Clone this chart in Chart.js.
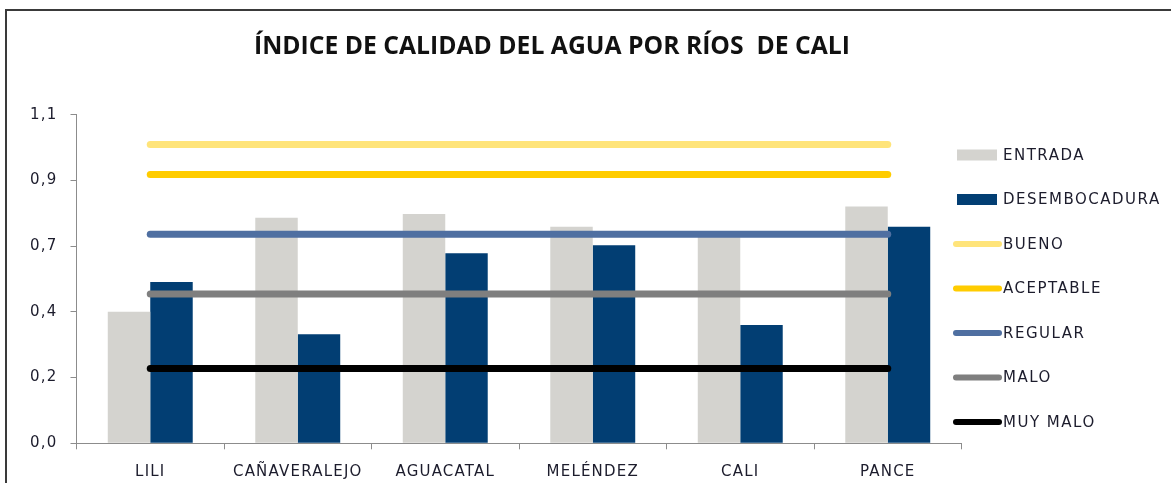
<!DOCTYPE html>
<html>
<head>
<meta charset="utf-8">
<script src="https://cdn.jsdelivr.net/npm/chart.js@4.4.0/dist/chart.umd.min.js"></script>
<style>
  html, body { margin: 0; padding: 0; background: #ffffff; }
  #wrap { position: relative; width: 1171px; height: 483px; }
  canvas { display: block; }
</style>
</head>
<body>
<div id="wrap"><canvas id="c" width="1171" height="483"></canvas></div>
<script>
// ---- data ----
const categories = ['LILI', 'CAÑAVERALEJO', 'AGUACATAL', 'MELÉNDEZ', 'CALI', 'PANCE'];
const entrada = [0.44, 0.755, 0.768, 0.725, 0.70, 0.793];
const desembocadura = [0.54, 0.365, 0.636, 0.663, 0.396, 0.725];
const bueno = [1.0, 1.0, 1.0, 1.0, 1.0, 1.0];
const aceptable = [0.9, 0.9, 0.9, 0.9, 0.9, 0.9];
const regular = [0.7, 0.7, 0.7, 0.7, 0.7, 0.7];
const malo = [0.5, 0.5, 0.5, 0.5, 0.5, 0.5];
const muyMalo = [0.25, 0.25, 0.25, 0.25, 0.25, 0.25];
const yTickValues = [0, 0.22, 0.44, 0.66, 0.88, 1.1];
const yTickLabels = ['0,0', '0,2', '0,4', '0,7', '0,9', '1,1'];
const titleText = 'ÍNDICE DE CALIDAD DEL AGUA POR RÍOS  DE CALI';

const TXT = '#1c1c2c';
const FONT = "'DejaVu Sans', 'Liberation Sans', sans-serif";
const SPACING = '1.2px';

function lineDs(label, data, color) {
  return {
    type: 'line', label, data,
    borderColor: color, backgroundColor: color,
    borderWidth: 7, borderCapStyle: 'round',
    pointRadius: 0, pointHoverRadius: 0,
    fill: false, tension: 0, order: 0
  };
}

const frame = {
  id: 'frame',
  beforeLayout(chart) { chart.ctx.letterSpacing = SPACING; },
  beforeDraw(chart) {
    const ctx = chart.ctx;
    ctx.letterSpacing = SPACING;
    ctx.save();
    ctx.fillStyle = '#ffffff';
    ctx.fillRect(0, 0, chart.width, chart.height);
    ctx.strokeStyle = '#3a3a3a';
    ctx.lineWidth = 2;
    ctx.beginPath();
    ctx.moveTo(6, chart.height);
    ctx.lineTo(6, 10);
    ctx.lineTo(chart.width, 10);
    ctx.stroke();
    ctx.restore();
  },
  afterDraw(chart) {
    const ctx = chart.ctx;
    ctx.save();
    // title
    ctx.letterSpacing = '0px';
    ctx.fillStyle = '#111111';
    ctx.font = "bold 25px 'Open Sans', 'Liberation Sans', sans-serif";
    ctx.textAlign = 'center';
    ctx.textBaseline = 'alphabetic';
    ctx.fillText(titleText, 552, 54, 596);
    // legend
    ctx.letterSpacing = '1.5px';
    const ds = chart.data.datasets;
    ctx.font = '15px ' + FONT;
    ctx.textAlign = 'left';
    ctx.textBaseline = 'middle';
    ds.forEach((d, i) => {
      const y = 155 + i * 44.5;
      if (d.type === 'line') {
        ctx.strokeStyle = d.borderColor;
        ctx.lineWidth = 6;
        ctx.lineCap = 'round';
        ctx.beginPath();
        ctx.moveTo(956, y);
        ctx.lineTo(999, y);
        ctx.stroke();
      } else {
        ctx.fillStyle = d.backgroundColor;
        ctx.fillRect(957, y - 5.5, 40, 11);
      }
      ctx.fillStyle = TXT;
      ctx.fillText(d.label, 1003, y + 1);
    });
    ctx.restore();
  }
};

new Chart(document.getElementById('c'), {
  type: 'bar',
  data: {
    labels: categories,
    datasets: [
      { type: 'bar', label: 'ENTRADA', data: entrada, backgroundColor: '#d4d3cf', borderWidth: 0, order: 1,
        barPercentage: 1, categoryPercentage: 0.576 },
      { type: 'bar', label: 'DESEMBOCADURA', data: desembocadura, backgroundColor: '#023e73', borderWidth: 0, order: 1,
        barPercentage: 1, categoryPercentage: 0.576 },
      lineDs('BUENO', bueno, '#ffe47a'),
      lineDs('ACEPTABLE', aceptable, '#ffcc00'),
      lineDs('REGULAR', regular, '#4f6fa1'),
      lineDs('MALO', malo, '#7f7f7f'),
      lineDs('MUY MALO', muyMalo, '#000000')
    ]
  },
  options: {
    responsive: false,
    animation: false,
    devicePixelRatio: 1,
    layout: { padding: { left: 0, right: 209.5, top: 114.7, bottom: 0 } },
    plugins: { legend: { display: false }, title: { display: false }, tooltip: { enabled: false } },
    scales: {
      x: {
        offset: true,
        grid: { offset: true, drawOnChartArea: false, color: '#8c8c8c', tickLength: 6, lineWidth: 1 },
        border: { color: '#8c8c8c', width: 1 },
        ticks: { color: TXT, font: { family: FONT, size: 15 }, padding: 14, maxRotation: 0, autoSkip: false },
        afterFit(s) { s.height = 39.7; }
      },
      y: {
        min: 0, max: 1.1,
        grid: { drawOnChartArea: false, color: '#8c8c8c', tickLength: 6, lineWidth: 1 },
        border: { color: '#8c8c8c', width: 1 },
        afterBuildTicks(s) { s.ticks = yTickValues.map(v => ({ value: v })); },
        ticks: {
          color: TXT, font: { family: FONT, size: 15 }, padding: 13,
          callback(v, i) { return yTickLabels[i]; }
        },
        afterFit(s) { s.width = 76.5; }
      }
    }
  },
  plugins: [frame]
});
</script>
</body>
</html>
